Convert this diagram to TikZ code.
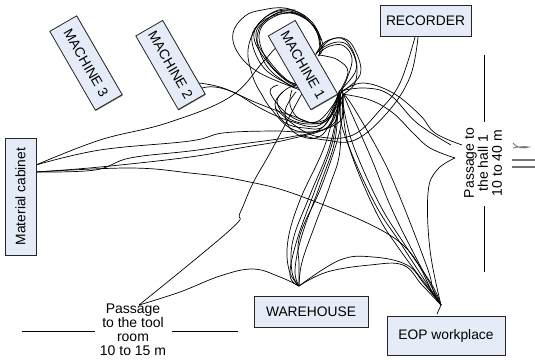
\documentclass[tikz,border=0pt]{standalone}
\usepackage{fontspec}
\setmainfont{Liberation Sans}
\usetikzlibrary{backgrounds,shadows,calc}
\definecolor{boxfill}{HTML}{E6ECF7}
\tikzset{
  box/.style={draw=black!85,line width=.8pt,fill=boxfill,inner sep=0pt,align=center,font=\fontsize{13.8}{14}\selectfont,
    drop shadow={shadow xshift=.7pt,shadow yshift=-.7pt,fill=black,opacity=.55}},
  machine/.style={box,rotate=-60,minimum width=85pt,minimum height=31pt},
  lbl/.style={inner sep=0pt,align=center,font=\fontsize{14}{14}\selectfont},
  wire/.style={draw=black,line width=.7pt,line join=round},
  wall/.style={draw=black,line width=.8pt},
  gmark/.style={draw=black!55,line width=1.1pt}
}
\newcommand{\wirepath}[1]{\draw[wire] plot[smooth,tension=.65] coordinates {#1};}
\begin{document}
\begin{tikzpicture}[x=1pt,y=-1pt]
\useasboundingbox (0,0) rectangle (535,359);
\node[box,rotate=90,minimum width=117pt,minimum height=31pt] (cab) at (20.5,196.5) {Material cabinet};
\node[machine,minimum width=91pt] (m3) at (86,63) {MACHINE 3};
\node[machine] (m2) at (170.5,65) {MACHINE 2};
\node[machine] (m1) at (303,65) {MACHINE 1};
\node[box,minimum width=91pt,minimum height=31pt] (rec) at (425.5,20.5) {RECORDER};
\node[box,minimum width=114pt,minimum height=31pt] (wh) at (311,311.5) {WAREHOUSE};
\node[box,minimum width=118pt,minimum height=39pt] (eop) at (446,335.5) {EOP workplace};
\node[lbl] (hall) at (483,163) [rotate=90] {Passage to\\the hall 1\\10 to 40 m};
\node[lbl] (tool) at (133,330) {Passage\\to the tool\\room\\10 to 15 m};
\coordinate (hub) at (m1.north east);
\coordinate (ha) at ($(hub)+(1,-3)$);
\coordinate (hb) at ($(hub)+(4,-3)$);
\coordinate (hc) at ($(hub)+(2,0)$);
\coordinate (hd) at ($(hub)+(5,0)$);
\coordinate (ct) at (36,165);
\coordinate (cb) at (36,172);
\coordinate (wt) at (299,286);
\coordinate (et) at (441,305);
\coordinate (tt) at (139,305);
\coordinate (ht) at (455,158);
\coordinate (ra) at (415,37);
\coordinate (rb) at (418,37);
\coordinate (ma) at (199,83);
\coordinate (mb) at (202,88);
\coordinate (pa) at (462,145);
\coordinate (pb) at (451,145);
\draw[wall] (22,331) -- (95,331);
\draw[wall] (172,331) -- (238,331);
\draw[wall] (484,55) -- (484,122);
\draw[wall] (484,206) -- (484,272);
\draw[gmark] (512,160) -- (535,160);
\draw[gmark] (512,167) -- (535,167);
\draw[gmark,line width=.8pt] (513,143) .. controls (516,148) and (524,149) .. (529,147) .. controls (524,146) and (517,147) .. (513,148);
\begin{scope}[on background layer]
% cabinet
\wirepath{(ct) (100,140) (167,123) (230,97) (263,62) (280,45) (300,42)}
\wirepath{(ct) (100,150) (190,141) (223,133) (273,131) (300,132) (323,130) (343,117) (hub)}
\wirepath{(cb) (95,170) (130,158) (190,151) (233,145) (290,137) (323,127) (hc)}
\wirepath{(cb) (100,167) (190,157) (240,148) (290,139) (330,125) (ha)}
\wirepath{(cb) (130,168) (190,173) (240,180) (303,197) (397,240) (433,293) (et)}
% machine 2
\wirepath{(ma) (223,88) (257,103) (290,115) (323,123) (hc)}
\wirepath{(mb) (215,87) (235,93) (262,109) (290,121) (320,125) (hub)}
% tool passage
\wirepath{(tt) (230,230) (240,213) (253,183) (270,153) (293,110) (305,88)}
\wirepath{(tt) (180,292) (220,276) (253,269) (280,277) (wt)}
% warehouse - eop
\wirepath{(wt) (340,260) (373,257) (407,265) (425,285) (et)}
\wirepath{(wt) (327,272) (370,265) (403,265) (422,285) (et)}
% warehouse - hub
\wirepath{(wt) (289,270) (288,240) (300,200) (325,145) (hub)}
\wirepath{(wt) (292,272) (293,240) (310,195) (330,145) (hc)}
\wirepath{(wt) (290,275) (297,240) (315,190) (333,140) (ha)}
\wirepath{(wt) (295,270) (302,235) (320,185) (335,140) (hub)}
\wirepath{(wt) (299,265) (300,235) (322,185) (340,130) (hd)}
\wirepath{(wt) (302,262) (315,225) (330,185) (340,150) (hc)}
% eop - hub
\wirepath{(et) (433,293) (403,247) (373,200) (343,130) (hc)}
\wirepath{(et) (430,290) (400,250) (376,212) (350,150) (343,110) (hd)}
\wirepath{(et) (432,285) (405,245) (380,205) (355,150) (345,115) (hb)}
\wirepath{(et) (433,290) (427,267) (397,190) (378,150) (352,105) (hd)}
\wirepath{(et) (436,295) (412,250) (390,205) (372,160) (350,110) (hb)}
\wirepath{(et) (437,314)}
% hall
\wirepath{(et) (430,250) (428,193) (437,170) (ht)}
\wirepath{(ht) (430,148) (413,133) (393,113) (370,100) (hd)}
\wirepath{(pb) (417,123) (390,95) (365,88) (ha)}
\wirepath{(pa) (435,133) (420,115) (393,93) (363,83) (hb)}
% recorder
\wirepath{(ra) (400,83) (380,110) (353,135) (320,137) (297,127) (275,108)}
\wirepath{(rb) (410,77) (387,113) (355,140) (325,140) (300,135)}
% band around the upper left of machine 1
\wirepath{(300,86) (288,82) (268,63) (254,38) (262,20) (285,9) (310,20) (323,45) (318,56)}
\wirepath{(300,90) (286,83) (266,65) (256,36) (264,22) (285,12) (312,24) (322,50)}
\wirepath{(298,85) (287,80) (270,62) (257,40) (266,20) (290,11) (315,28) (320,54)}
\wirepath{(297,84) (285,79) (267,60) (259,35) (270,19) (295,13) (318,32) (319,56)}
\wirepath{(300,88) (288,84) (264,68) (252,42) (258,25) (280,14) (305,17) (321,40)}
% big left lobe
\wirepath{(295,88) (258,72) (238,53) (233,33) (245,16) (262,10) (285,8) (305,16)}
\wirepath{(hc) (335,122) (312,132) (290,128) (272,110) (262,95) (253,77) (248,50) (258,25) (275,12) (295,10)}
% lower loops
\wirepath{(hub) (330,118) (310,124) (288,118) (277,102) (285,90) (296,85)}
\wirepath{(ha) (325,125) (305,128) (284,122) (275,104) (283,92)}
\wirepath{(hd) (328,118) (305,122) (285,112) (270,92) (278,85)}
\wirepath{(hb) (320,120) (300,119) (290,105) (292,90)}
\wirepath{(hd) (322,135) (295,133) (285,112) (296,92)}
% right lobes
\wirepath{(hub) (360,75) (355,50) (343,38) (325,42) (316,54)}
\wirepath{(ha) (356,70) (350,48) (338,42) (322,48) (315,56)}
\wirepath{(hc) (352,62) (344,46) (330,46) (320,52)}
\wirepath{(hub) (348,72) (338,60) (325,56) (318,55)}
\wirepath{(hd) (355,83) (356,60) (345,40) (330,40) (318,52)}
\end{scope}
\end{tikzpicture}
\end{document}
